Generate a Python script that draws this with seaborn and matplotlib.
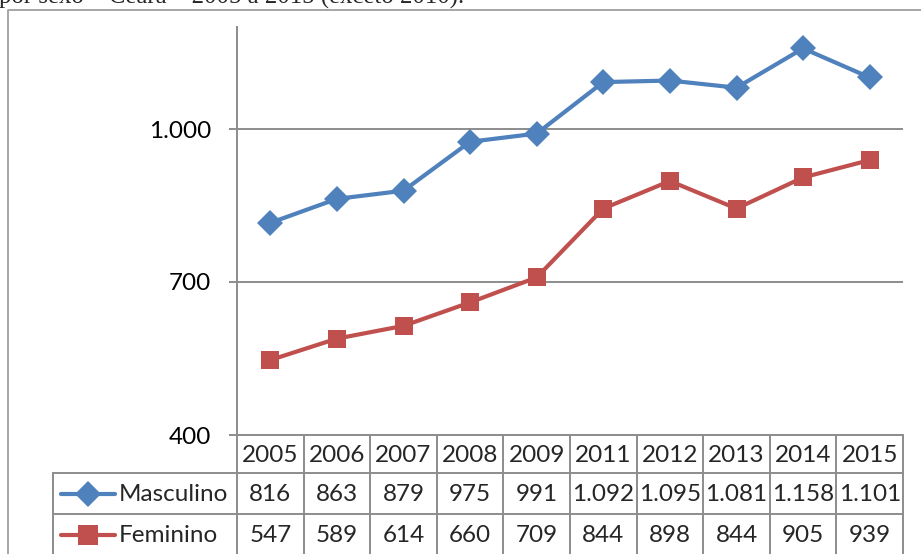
import matplotlib
matplotlib.use("Agg")
import matplotlib.pyplot as plt
import pandas as pd
import seaborn as sns

# Óbitos por sexo, Ceará, 2005–2015 (sem 2010)
anos = ["2005", "2006", "2007", "2008", "2009", "2011", "2012", "2013", "2014", "2015"]
masculino = [816, 863, 879, 975, 991, 1092, 1095, 1081, 1158, 1101]
feminino = [547, 589, 614, 660, 709, 844, 898, 844, 905, 939]
series = ["Masculino", "Feminino"]
y_ticks = [400, 700, 1000]

BLUE = "#4F81BD"
RED = "#C0504D"
GRID = "#8C8C8C"
FONT = "Lato"
FS = 17.5

sns.set_theme(style="white")
plt.rcParams["font.family"] = [FONT, "DejaVu Sans"]

W, H = 921, 554
fig = plt.figure(figsize=(W / 100, H / 100), dpi=100)


def fx(px):
    return px / W


def fy(py):
    return 1 - py / H


def fmt(v):
    return f"{v:,}".replace(",", ".")


# plot area (pixel box: x 237..903, y 27..435)
ax = fig.add_axes([fx(237), fy(435), fx(903) - fx(237), fy(27) - fy(435)])

df = pd.DataFrame({
    "pos": list(range(len(anos))) * 2,
    "valor": masculino + feminino,
    "sexo": [series[0]] * len(anos) + [series[1]] * len(anos),
})

sns.lineplot(
    data=df, x="pos", y="valor", hue="sexo", style="sexo",
    palette={series[0]: BLUE, series[1]: RED},
    markers={series[0]: "D", series[1]: "s"}, dashes=False,
    linewidth=3.0, markersize=13, markeredgewidth=0,
    legend=False, ax=ax, zorder=3,
)

ax.set_xlim(-0.5, len(anos) - 0.5)
ax.set_ylim(400, 1200)
ax.set_yticks(y_ticks)
ax.set_yticklabels([fmt(v) for v in y_ticks], fontsize=FS, color="black")
ax.set_xticks([])
ax.set_xlabel("")
ax.set_ylabel("")
ax.grid(axis="y", color=GRID, linewidth=1.4)
ax.set_axisbelow(True)
for s in ["top", "right", "bottom"]:
    ax.spines[s].set_visible(False)
ax.spines["left"].set_color(GRID)
ax.spines["left"].set_linewidth(1.4)
ax.tick_params(axis="y", which="both", left=True, length=5.8, width=1.4, color=GRID, pad=13)
ax.patch.set_alpha(0)

# overlay in pixel coordinates for the data table and outer frame
ov = fig.add_axes([0, 0, 1, 1], zorder=-1)
ov.set_xlim(0, W)
ov.set_ylim(H, 0)
ov.axis("off")

x0, x1 = 237, 903
col_w = (x1 - x0) / len(anos)
key_x = 53
rows_y = [435, 473, 514, 555]
tcol = GRID
lw = 1.4

# outer frame
ov.plot([8, 8, W + 2], [H + 2, 10, 10], color="#A6A6A6", lw=1.4)

# table borders
ov.plot([x0, x1], [rows_y[0], rows_y[0]], color=tcol, lw=lw)
for yy in rows_y[1:3]:
    ov.plot([key_x, x1], [yy, yy], color=tcol, lw=lw)
for k in range(len(anos) + 1):
    xx = x0 + k * col_w
    ov.plot([xx, xx], [rows_y[0], H + 2], color=tcol, lw=lw)
ov.plot([key_x, key_x], [rows_y[1], H + 2], color=tcol, lw=lw)

row_c = [(rows_y[r] + rows_y[r + 1]) / 2 + 1 for r in range(3)]
for i, ano in enumerate(anos):
    cx = x0 + (i + 0.5) * col_w
    ov.text(cx, row_c[0], ano, ha="center", va="center", fontsize=FS)
    ov.text(cx, row_c[1], fmt(masculino[i]), ha="center", va="center", fontsize=FS)
    ov.text(cx, row_c[2], fmt(feminino[i]), ha="center", va="center", fontsize=FS)

# series keys in the first table column
for name, color, mk, r in ((series[0], BLUE, "D", 1), (series[1], RED, "s", 2)):
    cy = row_c[r] - 1
    ov.plot([61, 115], [cy, cy], color=color, lw=3.0, solid_capstyle="round")
    ov.plot([88], [cy], marker=mk, color=color, markersize=13 if mk == "D" else 14, markeredgewidth=0)
    ov.text(119, cy + 1, name, ha="left", va="center", fontsize=FS)

# caption line above the chart (partly outside the canvas)
fig.text(fx(-1), fy(4), "por sexo \u2013 Ceará \u2013 2005 a 2015 (exceto 2010).",
         family=["Liberation Serif", "DejaVu Serif"], fontsize=17.8, ha="left", va="baseline")

fig.savefig("out.png", dpi=100)
